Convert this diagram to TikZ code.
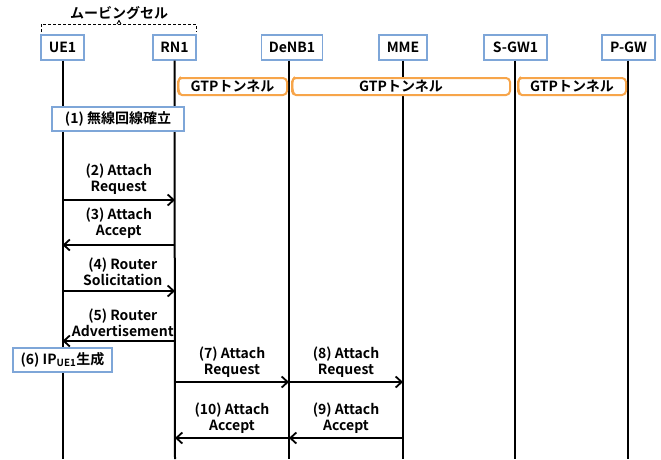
\documentclass[tikz,border=0pt]{standalone}
\usepackage{fontspec}
\setmainfont{Noto Sans CJK JP}[BoldFont={Noto Sans CJK JP Bold}]
\usetikzlibrary{arrows.meta,positioning}
\definecolor{boxblue}{HTML}{7EA6D8}
\definecolor{tunorange}{HTML}{F7A54A}
\tikzset{
  hdr/.style={draw=boxblue,line width=1.2pt,fill=white,minimum height=25pt,inner sep=0pt,font=\bfseries\fontsize{14}{15}\selectfont},
  note/.style={draw=boxblue,line width=1.2pt,fill=white,minimum height=24pt,inner sep=0pt,font=\bfseries\fontsize{14}{15}\selectfont},
  life/.style={line width=2pt},
  msg/.style={line width=2pt,-{Straight Barb[length=6pt,width=11pt,line width=1.8pt]}},
  lbl/.style={align=center,font=\bfseries\fontsize{14}{16}\selectfont,inner sep=0pt},
  tunnel/.style={draw=tunorange,line width=2pt,rounded corners=4pt,fill=white,minimum height=17pt,inner sep=0pt,font=\bfseries\fontsize{14}{15}\selectfont}
}
\begin{document}
\begin{tikzpicture}[x=1pt,y=-1pt]
\useasboundingbox[fill=white] (0,0) rectangle (661,459);
% headers
\node[hdr,minimum width=43pt] (ue) at (62.5,47.5) {UE1};
\node[hdr,minimum width=43pt] (rn) at (174.5,47.5) {RN1};
\node[hdr,minimum width=61pt] (denb) at (292,47.5) {DeNB1};
\node[hdr,minimum width=48pt] (mme) at (403,47.5) {MME};
\node[hdr,minimum width=63pt] (sgw) at (515.5,47.5) {S-GW1};
\node[hdr,minimum width=53pt] (pgw) at (628.5,47.5) {P-GW};
% lifelines
\coordinate (ueE) at (62.5,459);
\coordinate (rnE) at (175,459);
\coordinate (denbE) at (289,459);
\coordinate (mmeE) at (403,459);
\coordinate (sgwE) at (514.5,459);
\coordinate (pgwE) at (628,459);
\draw[life] (ue.south) -- (ueE);
\draw[life] (rn.south) -- (rnE);
\draw[life] (denbE |- denb.south) -- (denbE);
\draw[life] (mme.south) -- (mmeE);
\draw[life] (sgwE |- sgw.south) -- (sgwE);
\draw[life] (pgwE |- pgw.south) -- (pgwE);
% moving cell bracket
\node[font=\bfseries\fontsize{14}{15}\selectfont,inner sep=0pt] (mc) at (119,13.5) {ムービングセル};
\draw[dashed,line width=0.9pt,dash pattern=on 3pt off 2pt] (41,32) -- (41,24) -- (196,24) -- (196,32);
\draw[line width=0.9pt] (117,24) -- (119,20.5) -- (121,24);
% GTP tunnels
\node[tunnel,minimum width=109pt] (t1) at (232.5,86.5) {GTPトンネル};
\node[tunnel,minimum width=218pt] (t2) at (401,86.5) {GTPトンネル};
\node[tunnel,minimum width=108pt] (t3) at (572,86.5) {GTPトンネル};
\foreach \t in {t1,t2,t3}{
  \draw[tunorange,line width=1.6pt] ([xshift=4pt]\t.north west) arc[start angle=90,end angle=270,x radius=2.5pt,y radius=8.5pt];
}
% (1)
\node[note,minimum width=132pt] (n1) at (118,119) {(1) 無線回線確立};
% messages
\coordinate (a2s) at (62.5,200); \coordinate (a2e) at (175,200);
\draw[msg] (a2s) -- (a2e) node[lbl,midway,above=4pt] {(2) Attach\\Request};
\coordinate (a3s) at (175,245); \coordinate (a3e) at (62.5,245);
\draw[msg] (a3s) -- (a3e) node[lbl,midway,above=5pt] {(3) Attach\\Accept};
\coordinate (a4s) at (62.5,291); \coordinate (a4e) at (175,291);
\draw[msg] (a4s) -- (a4e) node[lbl,midway,above=4pt,xshift=4pt] {(4) Router\\Solicitation};
\coordinate (a5s) at (175,341); \coordinate (a5e) at (62.5,341);
\draw[msg] (a5s) -- (a5e) node[lbl,midway,above=3pt,xshift=4pt] {(5) Router\\Advertisement};
% (6)
\node[note,minimum width=99pt] (n6) at (62.5,360) {(6) IP\textsubscript{UE1}生成};
\coordinate (a7s) at (175,382); \coordinate (a7e) at (289,382);
\draw[msg] (a7s) -- (a7e) node[lbl,midway,above=4pt] {(7) Attach\\Request};
\coordinate (a8s) at (289,382); \coordinate (a8e) at (403,382);
\draw[msg] (a8s) -- (a8e) node[lbl,midway,above=4pt] {(8) Attach\\Request};
\coordinate (a9s) at (403,438); \coordinate (a9e) at (289,438);
\draw[msg] (a9s) -- (a9e) node[lbl,midway,above=4pt] {(9) Attach\\Accept};
\coordinate (a10s) at (289,438); \coordinate (a10e) at (175,438);
\draw[msg] (a10s) -- (a10e) node[lbl,midway,above=4pt] {(10) Attach\\Accept};
\end{tikzpicture}
\end{document}
